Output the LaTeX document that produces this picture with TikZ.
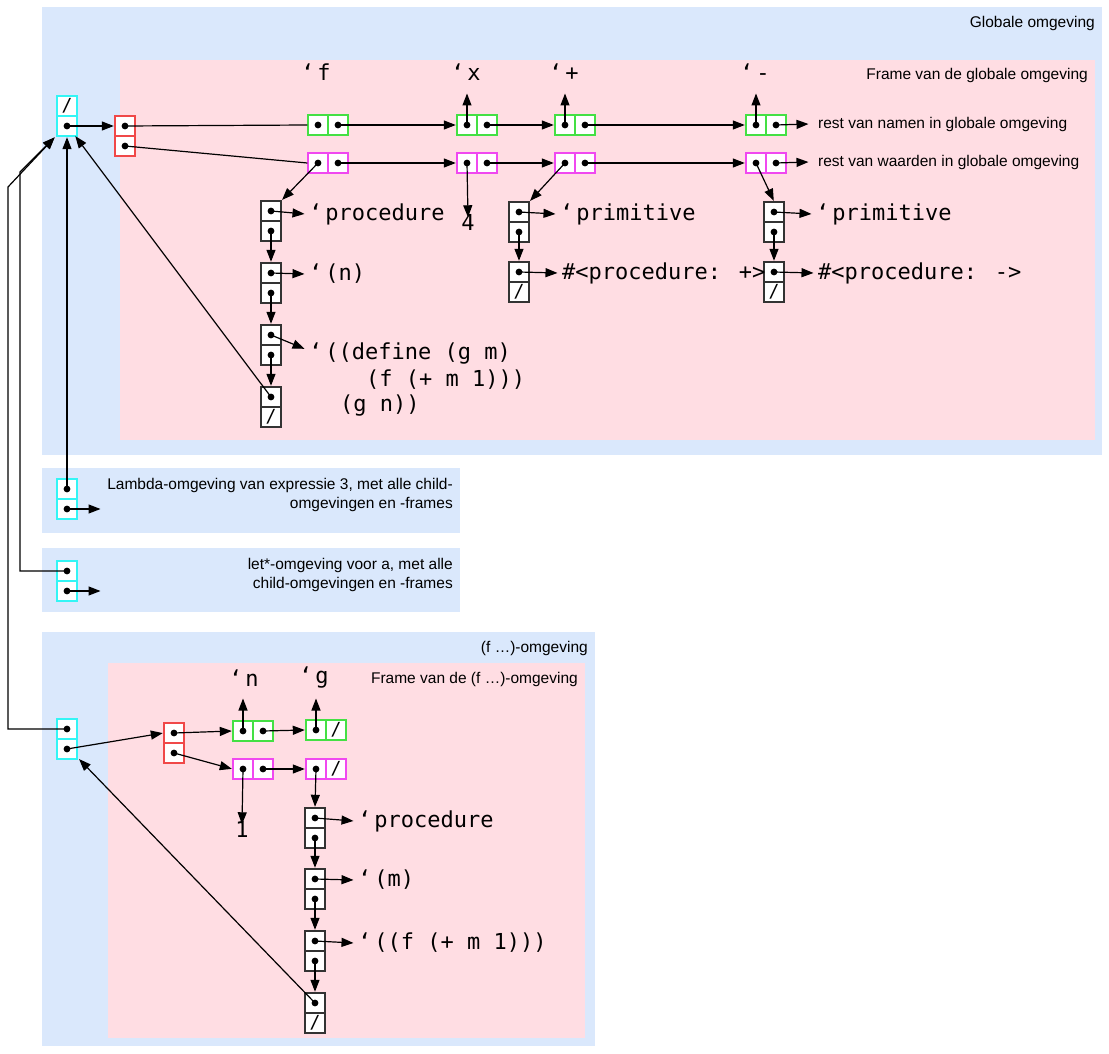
\documentclass[tikz,border=0pt]{standalone}
\usepackage{fontspec}
\setmainfont{Liberation Sans}
\newfontfamily\codefont{DejaVu Sans Mono}
\usetikzlibrary{arrows.meta}
\definecolor{envbg}{HTML}{DAE8FC}
\definecolor{framebg}{HTML}{FFDDE3}
\definecolor{ccyan}{HTML}{33F5F5}
\definecolor{cred}{HTML}{F04848}
\definecolor{cgreen}{HTML}{44E044}
\definecolor{cmag}{HTML}{F048F0}
\definecolor{cblk}{HTML}{333333}
\tikzset{
  cell/.style={draw=#1,fill=white,minimum width=20pt,minimum height=20pt,inner sep=0pt,line width=1.4pt},
  cell/.default=cblk,
  arr/.style={-{Triangle[length=12pt,width=9pt]},line width=1.2pt,shorten >=0.5pt},
  ln/.style={line width=1.2pt},
  code/.style={font=\codefont\fontsize{22}{26}\selectfont,inner sep=0pt,anchor=west},
  lbl/.style={font=\fontsize{15.5}{19}\selectfont,inner sep=0pt},
  nil/.style={font=\codefont\fontsize{18}{20}\selectfont},
}
\newcommand\dt[1]{\fill (#1) circle (3.4pt);}
\newcommand\q{‘\hspace{3pt}}
\begin{document}
\begin{tikzpicture}[x=1pt,y=-1pt]
\useasboundingbox (0,0) rectangle (1109,1054);
% backgrounds
\fill[envbg] (42,7) rectangle (1102,455);
\fill[framebg] (120,60) rectangle (1095,440);
\fill[envbg] (42,468) rectangle (460,533);
\fill[envbg] (42,548) rectangle (460,612);
\fill[envbg] (42,632) rectangle (595,1046);
\fill[framebg] (108,663) rectangle (585,1038);
\node[lbl,anchor=east] (tGlob) at (1095,23) {Globale omgeving};
\node[lbl,anchor=east] (tFrame) at (1088,75) {Frame van de globale omgeving};
\node[lbl,anchor=north east,align=right] (tLam) at (453,478) {Lambda-omgeving van expressie 3, met alle child-\\omgevingen en -frames};
\node[lbl,anchor=north east,align=right] (tLet) at (453,558) {let*-omgeving voor a, met alle\\child-omgevingen en -frames};
\node[lbl,anchor=east] (tF) at (588,648) {(f …)-omgeving};
\node[lbl,anchor=east] (tFF) at (578,679) {Frame van de (f …)-omgeving};

% global env cell
\node[cell=ccyan] (G1) at (67,106) {};
\node[cell=ccyan] (G2) at (67,126) {};
\node[nil] at (G1) {/};
\node[cell=cred] (R1) at (125,126) {};
\node[cell=cred] (R2) at (125,146) {};
% green / magenta rows
\foreach \n/\x in {f/318,x/467,p/565,m/756}{
  \node[cell=cgreen] (G\n1) at (\x,125) {};
  \node[cell=cgreen] (G\n2) at (\x+20,125) {};
  \node[cell=cmag] (M\n1) at (\x,163) {};
  \node[cell=cmag] (M\n2) at (\x+20,163) {};
}
\foreach \c in {G2,R1,R2,Gf1,Gf2,Gx1,Gx2,Gp1,Gp2,Gm1,Gm2,Mf1,Mf2,Mx1,Mx2,Mp1,Mp2,Mm1,Mm2}{\dt{\c}}
\draw[ln] (R1.center) -- (Gf1.west);
\draw[ln] (R2.center) -- (Mf1.west);
\draw[arr] (G2.center) -- (R1.west);
\draw[arr] (Gf2.center) -- (Gx1.west);
\draw[arr] (Gx2.center) -- (Gp1.west);
\draw[arr] (Gp2.center) -- (Gm1.west);
\draw[arr] (Mf2.center) -- (Mx1.west);
\draw[arr] (Mx2.center) -- (Mp1.west);
\draw[arr] (Mp2.center) -- (Mm1.west);
\node[lbl,anchor=west] (restN) at (818,124) {rest van namen in globale omgeving};
\node[lbl,anchor=west] (restW) at (818,162) {rest van waarden in globale omgeving};
\draw[arr] (Gm2.center) -- ([xshift=-9pt]restN.west);
\draw[arr] (Mm2.center) -- ([xshift=-9pt]restW.west);
\node[code] (sf) at (301,72) {\q f};
\node[code] (sx) at (451,72) {\q x};
\node[code] (sp) at (549,72) {\q +};
\node[code] (sm) at (740,72) {\q -};
\coordinate (ux) at (467,93);
\coordinate (up) at (565,93);
\coordinate (um) at (756,93);
\draw[arr] (Gx1.center) -- (ux);
\draw[arr] (Gp1.center) -- (up);
\draw[arr] (Gm1.center) -- (um);
\node[code,anchor=center] (four) at (468,222) {4};
\draw[arr] (Mx1.center) -- ([yshift=-4pt]four.north);
% procedure f
\foreach \i/\y in {1/211,2/273,3/335,4/397}{
  \node[cell] (P\i) at (271,\y) {};
  \node[cell] (P\i b) at (271,\y+20) {};
  \dt{P\i}
}
\dt{P1b}\dt{P2b}\dt{P3b}
\node[nil] at (P4b) {/};
\draw[arr] (Mf1.center) -- (P1.north east);
\draw[arr] (P1b.center) -- (P2.north);
\draw[arr] (P2b.center) -- (P3.north);
\draw[arr] (P3b.center) -- (P4.north);
\node[code] (tp1) at (309,214) {\q procedure};
\node[code] (tp2) at (309,274) {\q (n)};
\node[code] (tp3) at (309,354) {\q ((define (g m)};
\node[code] (tp3b) at (366,380) {(f (+ m 1)))};
\node[code] (tp3c) at (340,406) {(g n))};
\draw[arr] (P1.center) -- ([xshift=-4pt]tp1.west);
\draw[arr] (P2.center) -- ([xshift=-4pt]tp2.west);
\draw[arr] (P3.center) -- ([shift={(-4pt,5pt)}]tp3.west);
\draw[arr] (P4.center) -- ([shift={(8pt,1pt)}]G2.south);
% primitive +
\foreach \i/\y in {1/212,2/272}{
  \node[cell] (Q\i) at (519,\y) {};
  \node[cell] (Q\i b) at (519,\y+20) {};
  \node[cell] (S\i) at (774,\y) {};
  \node[cell] (S\i b) at (774,\y+20) {};
  \dt{Q\i}\dt{S\i}
}
\dt{Q1b}\dt{S1b}
\node[nil] at (Q2b) {/};
\node[nil] at (S2b) {/};
\draw[arr] (Mp1.center) -- (Q1.north east);
\draw[arr] (Mm1.center) -- (S1.north);
\draw[arr] (Q1b.center) -- (Q2.north);
\draw[arr] (S1b.center) -- (S2.north);
\node[code] (tq1) at (560,214) {\q primitive};
\node[code] (tq2) at (562,273) {\#<procedure: +>};
\node[code] (ts1) at (816,214) {\q primitive};
\node[code] (ts2) at (818,273) {\#<procedure: ->};
\draw[arr] (Q1.center) -- ([xshift=-4pt]tq1.west);
\draw[arr] (Q2.center) -- ([xshift=-4pt]tq2.west);
\draw[arr] (S1.center) -- ([xshift=-4pt]ts1.west);
\draw[arr] (S2.center) -- ([xshift=-4pt]ts2.west);

% lambda env
\node[cell=ccyan] (L1) at (67,489) {};
\node[cell=ccyan] (L2) at (67,509) {};
\dt{L1}\dt{L2}
\coordinate (Lend) at (101,509);
\draw[arr] (L1.center) -- (G2.south);
\draw[arr] (L2.center) -- (Lend);
% let env
\node[cell=ccyan] (T1) at (67,571) {};
\node[cell=ccyan] (T2) at (67,591) {};
\dt{T1}\dt{T2}
\coordinate (Tend) at (101,591);
\coordinate (Gin) at (55,137);
\draw[arr] (T2.center) -- (Tend);
\draw[arr] (T1.center) -- (20,571) -- (20,172) -- (Gin);
% f env
\node[cell=ccyan] (F1) at (67,729) {};
\node[cell=ccyan] (F2) at (67,749) {};
\dt{F1}\dt{F2}
\draw[arr] (F1.center) -- (8,729) -- (8,187) -- (Gin);
\node[cell=cred] (FR1) at (174,733) {};
\node[cell=cred] (FR2) at (174,753) {};
\node[cell=cgreen] (Hn1) at (243,731) {};
\node[cell=cgreen] (Hn2) at (263,731) {};
\node[cell=cgreen] (Hg1) at (316,730) {};
\node[cell=cgreen] (Hg2) at (336,730) {};
\node[cell=cmag] (Kn1) at (243,769) {};
\node[cell=cmag] (Kn2) at (263,769) {};
\node[cell=cmag] (Kg1) at (316,769) {};
\node[cell=cmag] (Kg2) at (336,769) {};
\node[nil] at (Hg2) {/};
\node[nil] at (Kg2) {/};
\foreach \c in {FR1,FR2,Hn1,Hn2,Hg1,Kn1,Kn2,Kg1}{\dt{\c}}
\draw[arr] (F2.center) -- (FR1.west);
\draw[arr] (FR1.center) -- (Hn1.west);
\draw[arr] (FR2.center) -- (Kn1.west);
\draw[arr] (Hn2.center) -- (Hg1.west);
\draw[arr] (Kn2.center) -- (Kg1.west);
\node[code] (sn) at (229,678) {\q n};
\node[code] (sg) at (299,678) {\q g};
\coordinate (un) at (243,698);
\coordinate (ug) at (316,698);
\draw[arr] (Hn1.center) -- (un);
\draw[arr] (Hg1.center) -- (ug);
\node[code,anchor=center] (one) at (242,829) {1};
\draw[arr] (Kn1.center) -- ([yshift=-4pt]one.north);
\foreach \i/\y in {1/818,2/879,3/941,4/1003}{
  \node[cell] (B\i) at (315,\y) {};
  \node[cell] (B\i b) at (315,\y+20) {};
  \dt{B\i}
}
\dt{B1b}\dt{B2b}\dt{B3b}
\node[nil] at (B4b) {/};
\draw[arr] (Kg1.center) -- (B1.north);
\draw[arr] (B1b.center) -- (B2.north);
\draw[arr] (B2b.center) -- (B3.north);
\draw[arr] (B3b.center) -- (B4.north);
\node[code] (tb1) at (358,821) {\q procedure};
\node[code] (tb2) at (358,880) {\q (m)};
\node[code] (tb3) at (358,943) {\q ((f (+ m 1)))};
\draw[arr] (B1.center) -- ([xshift=-4pt]tb1.west);
\draw[arr] (B2.center) -- ([xshift=-4pt]tb2.west);
\draw[arr] (B3.center) -- ([xshift=-4pt]tb3.west);
\draw[arr] (B4.center) -- ([shift={(1pt,1pt)}]F2.south east);
\end{tikzpicture}
\end{document}
